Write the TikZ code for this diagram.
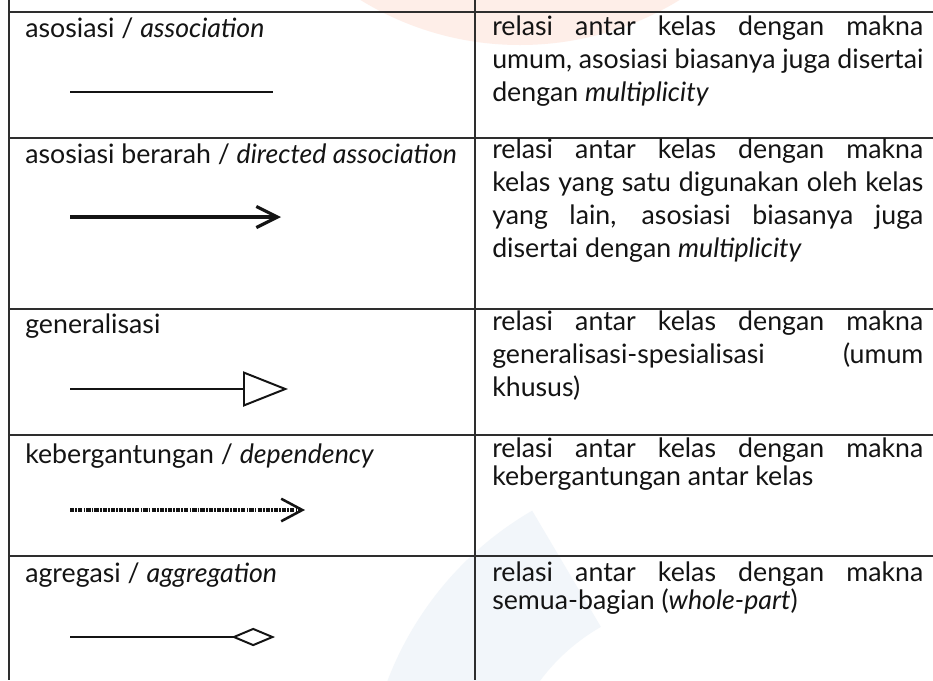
\documentclass[tikz,border=0pt]{standalone}
\usepackage{fontspec}
\setmainfont{Lato}
\usetikzlibrary{arrows.meta}

\definecolor{wmpeach}{RGB}{254,238,232}
\definecolor{wmpale}{RGB}{242,246,250}
\newcommand{\cellfont}{\fontsize{19}{23.5}\selectfont\tolerance=10000\hbadness=10000}

\begin{document}
\begin{tikzpicture}[x=0.025cm,y=-0.025cm,
  grid/.style={draw=black!82,line width=1.1pt},
  lbl/.style={anchor=base west,inner sep=0pt,font=\cellfont,text=black!92},
  desc/.style={anchor=base west,inner sep=0pt,text width=10.775cm,align=justify,font=\cellfont,text=black!92},
  rel/.style={line width=1.6pt,black!92}]
  \fill[white] (0,0) rectangle (933,680);
  \useasboundingbox (0,0) rectangle (933,680);

  % faint background
  \begin{scope}
    \clip (0,0) rectangle (933,680);
    \fill[wmpeach] (520,-260) circle (305);
    \draw[wmpale,line width=96pt] (700,800) ++(165:267) arc[start angle=165,end angle=240,radius=267];
  \end{scope}

  \foreach \y in {12,138,309,435,556}
    \draw[grid] (9,\y) -- (933,\y);
  \draw[grid] (9,0) -- (9,680);
  \draw[grid] (475,0) -- (475,680);

  \node[lbl] (l1) at (25,37) {asosiasi / \textit{association}};
  \node[lbl] (l2) at (25,163) {asosiasi berarah / \textit{directed association}};
  \node[lbl] (l3) at (25,333) {generalisasi};
  \node[lbl] (l4) at (25,463) {kebergantungan / \textit{dependency}};
  \node[lbl] (l5) at (25,582) {agregasi / \textit{aggregation}};

  \node[desc] (d1) at (492,35) {relasi antar kelas dengan makna\linebreak umum, asosiasi biasanya juga disertai\linebreak dengan \textit{multiplicity}};
  \node[desc] (d2) at (492,158) {relasi antar kelas dengan makna\linebreak kelas yang satu digunakan oleh kelas\linebreak yang lain, asosiasi biasanya juga\linebreak disertai dengan \textit{multiplicity}};
  \node[desc] (d3) at (492,330) {relasi antar kelas dengan makna\linebreak \mbox{generalisasi-spesialisasi}\hfill(umum\\ khusus)};
  \node[desc,font=\cellfont\fontsize{19}{20.6}\selectfont] (d4) at (492,457) {relasi antar kelas dengan makna\linebreak kebergantungan antar kelas};
  \node[desc,font=\cellfont\fontsize{19}{20.6}\selectfont] (d5) at (492,581) {relasi antar kelas dengan makna\linebreak semua-bagian (\textit{whole-part})};

  \coordinate (a1) at (70,92);  \coordinate (b1) at (273,92);
  \coordinate (a2) at (70,217); \coordinate (b2) at (281,217);
  \coordinate (a3) at (70,389); \coordinate (b3) at (288,389);
  \coordinate (a4) at (70,510); \coordinate (b4) at (305,510);
  \coordinate (a5) at (70,637); \coordinate (b5) at (275,637);

  \draw[rel] (a1) -- (b1);
  \draw[rel,line width=2.3pt,-{Straight Barb[length=15pt,width=15pt]}] (a2) -- (b2);
  \draw[rel,line width=1.4pt,-{Triangle[open,length=32pt,width=25pt]}] (a3) -- (b3);
  \draw[rel,line width=2.4pt,dash pattern=on 3pt off 0.8pt on 1.2pt off 0.8pt,-{Straight Barb[length=15pt,width=16pt,line width=1.8pt]}] (a4) -- (b4);
  \draw[rel,line width=1.4pt,-{Diamond[open,length=31pt,width=13pt]}] (a5) -- (b5);
\end{tikzpicture}
\end{document}
